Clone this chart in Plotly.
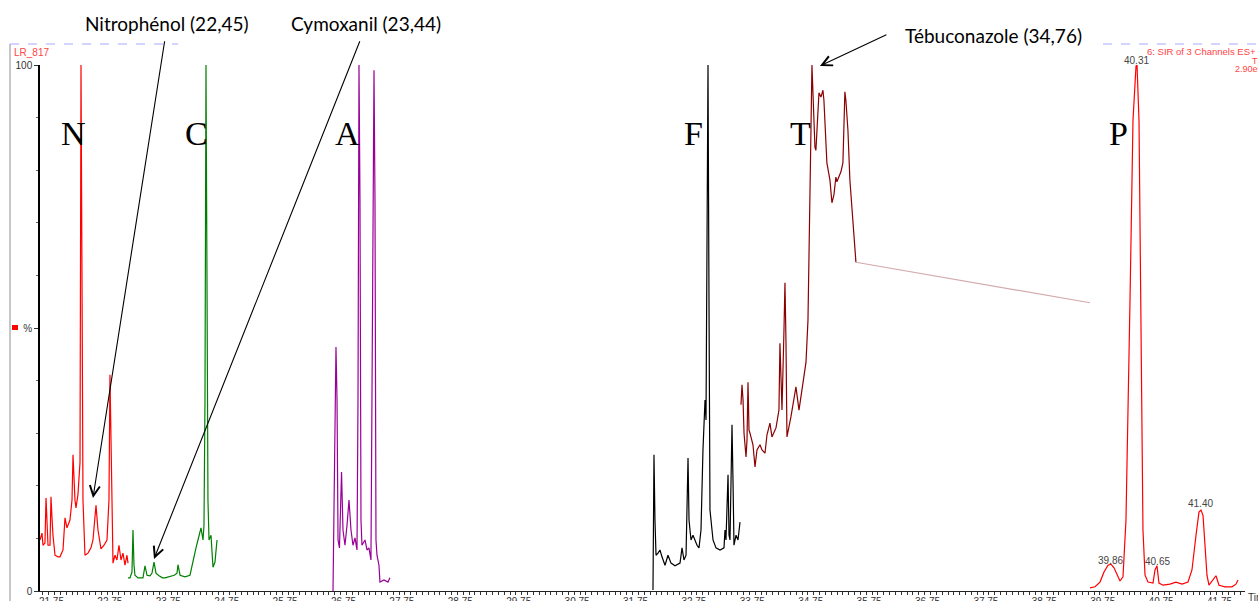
import plotly.graph_objects as go

# ---------------- data (time in minutes, intensity in %) ----------------
x_range = [21.502, 42.135]
tick_times = [21.75 + i for i in range(21)]
tick_labels = [f"{t:.2f}" for t in tick_times]
y_tick_vals = [0, 50, 100]
y_tick_labels = ["0", "%", "100"]

# N : nitrophenol channel (red)
n_time = [21.502, 21.536, 21.553, 21.587, 21.605, 21.622, 21.639, 21.673, 21.690, 21.707,
          21.724, 21.759, 21.810, 21.844, 21.896, 21.930, 21.964, 22.015, 22.050, 22.067,
          22.084, 22.101, 22.118, 22.152, 22.187, 22.204, 22.221, 22.238, 22.272, 22.324,
          22.375, 22.409, 22.461, 22.495, 22.546, 22.598, 22.649, 22.683, 22.700, 22.717,
          22.752, 22.786, 22.820, 22.854, 22.889, 22.923, 22.957, 22.991, 23.009]
n_int = [9.7, 11.0, 8.7, 9.1, 17.7, 12.0, 8.7, 8.7, 17.9, 14.0,
         10.6, 6.8, 6.5, 6.5, 7.8, 13.9, 12.0, 13.5, 17.3, 25.9,
         19.0, 17.3, 15.8, 18.3, 24.5, 100, 60, 17.3, 6.8, 7.2,
         8.2, 9.7, 16.3, 11.6, 8.0, 8.7, 9.7, 17.3, 41.1, 28.7,
         5.3, 6.8, 5.9, 8.7, 5.9, 7.2, 4.9, 6.8, 5.3]

# C : cymoxanil channel (green)
c_time = [23.009, 23.043, 23.077, 23.094, 23.111, 23.128, 23.180, 23.265, 23.300, 23.334,
          23.385, 23.420, 23.454, 23.488, 23.540, 23.600, 23.642, 23.728, 23.800, 23.848,
          23.865, 23.900, 23.985, 24.070, 24.122, 24.173, 24.207, 24.259, 24.293, 24.310,
          24.327, 24.344, 24.361, 24.378, 24.396, 24.430, 24.464, 24.498, 24.533]
c_int = [2.5, 2.5, 3.6, 11.6, 5.0, 3.0, 2.5, 2.5, 4.8, 3.0,
         2.9, 3.4, 5.5, 3.4, 2.9, 2.5, 2.5, 2.7, 3.0, 3.4,
         5.0, 3.0, 2.7, 3.0, 5.9, 8.2, 9.7, 12.0, 9.7, 12.5,
         36.3, 100, 60, 17.3, 9.7, 10.6, 4.5, 5.5, 9.7]

# A : purple channel
a_time = [26.519, 26.536, 26.570, 26.588, 26.605, 26.630, 26.665, 26.690, 26.724, 26.759,
          26.793, 26.827, 26.861, 26.896, 26.930, 26.947, 26.964, 26.981, 26.998, 27.015,
          27.067, 27.101, 27.135, 27.169, 27.204, 27.221, 27.238, 27.255, 27.272, 27.306,
          27.323, 27.392, 27.460, 27.494]
a_int = [0, 13.5, 46.4, 36.3, 9.7, 8.2, 22.6, 11.6, 8.7, 12.5,
         17.3, 11.6, 8.7, 10.1, 7.8, 36.3, 100, 74.3, 13.5, 8.7,
         9.7, 7.8, 8.2, 5.9, 64.8, 99, 74.3, 9.7, 6.8, 4.9,
         1.7, 2.1, 1.7, 2.5]

# F : black channel
f_time = [31.998, 32.015, 32.032, 32.050, 32.084, 32.118, 32.152, 32.204, 32.255, 32.307,
          32.375, 32.461, 32.495, 32.529, 32.564, 32.598, 32.615, 32.649, 32.683, 32.752,
          32.786, 32.820, 32.854, 32.889, 32.906, 32.923, 32.940, 32.957, 32.974, 33.026,
          33.077, 33.146, 33.214, 33.231, 33.248, 33.283, 33.300, 33.317, 33.351, 33.368,
          33.385, 33.420, 33.454, 33.488]
f_int = [0.2, 25.9, 13.5, 6.8, 7.2, 7.8, 6.5, 4.9, 6.8, 5.3,
         4.8, 5.3, 8.2, 5.9, 6.8, 25.3, 13.5, 9.7, 10.6, 8.7,
         8.2, 11.6, 26.8, 36.3, 32.5, 74.3, 100, 55.3, 15.4, 9.7,
         8.2, 7.8, 8.2, 11.6, 9.7, 22.1, 10.6, 9.7, 31.6, 21.1,
         8.7, 10.6, 9.7, 13.1]

# T : tebuconazole channel (dark red)
t_time = [33.505, 33.522, 33.540, 33.557, 33.591, 33.608, 33.625, 33.642, 33.659, 33.710,
          33.745, 33.779, 33.830, 33.865, 33.916, 33.950, 34.001, 34.035, 34.104, 34.155,
          34.172, 34.190, 34.207, 34.241, 34.258, 34.275, 34.292, 34.360, 34.446, 34.498,
          34.566, 34.618, 34.652, 34.686, 34.703, 34.720, 34.737, 34.771, 34.788, 34.806,
          34.840, 34.874, 34.908, 34.925, 34.960, 34.976, 35.028, 35.062, 35.096, 35.130,
          35.147, 35.216, 35.250, 35.284, 35.301, 35.336, 35.370, 35.421, 35.456, 35.473]
t_int = [35.4, 39.2, 36.3, 30.0, 25.5, 28.7, 39.7, 30.6, 30.0, 27.8,
         23.6, 26.8, 27.8, 26.8, 26.2, 29.7, 31.9, 29.3, 31.0, 34.4,
         47.1, 40.1, 34.4, 49.6, 58.6, 47.7, 29.3, 33.1, 38.8, 34.4,
         39.5, 43.5, 51.5, 71.1, 87.6, 100, 93.3, 84.4, 83.8, 87.6,
         94.7, 93.9, 95.2, 93.3, 85.7, 81.4, 78.1, 73.8, 75.3, 78.7,
         77.8, 79.7, 81.4, 94.9, 93.3, 87.6, 78.1, 70.5, 63.5, 62.5]

# connecting segment between T and P
gap_time = [35.473, 39.481]
gap_int = [62.5, 54.8]

# P : red channel
p_time = [39.481, 39.567, 39.652, 39.721, 39.789, 39.840, 39.892, 39.943, 39.995, 40.046,
          40.097, 40.166, 40.217, 40.269, 40.286, 40.320, 40.354, 40.388, 40.423, 40.474,
          40.560, 40.594, 40.628, 40.662, 40.730, 40.850, 40.953, 41.056, 41.159, 41.227,
          41.296, 41.347, 41.381, 41.416, 41.450, 41.484, 41.518, 41.587, 41.638, 41.690,
          41.792, 41.912, 41.980, 42.015]
p_int = [0.6, 0.8, 1.7, 3.6, 4.9, 5.1, 4.4, 3.0, 1.9, 2.7,
         13.5, 55.3, 89.5, 99.8, 100, 89.5, 45.8, 11.6, 3.0, 1.7,
         1.5, 4.0, 4.8, 1.5, 1.1, 1.3, 1.7, 1.3, 1.7, 4.0,
         10.6, 15.0, 15.4, 14.4, 8.7, 3.0, 1.1, 2.1, 2.9, 1.1,
         0.8, 0.8, 1.3, 2.1]

peak_labels = ["40.31", "39.86", "40.65", "41.40"]
segment_letters = ["N", "C", "A", "F", "T", "P"]

# ---------------- figure ----------------
W, H = 1258, 601
L, R, T, B = 40, 13, 65, 10
PW, PH = W - L - R, H - T - B


def px(xp):
    return (xp - L) / PW


def py(yp):
    return (H - B - yp) / PH


fig = go.Figure()
series = [
    (n_time, n_int, "#ff0000"),
    (c_time, c_int, "#008000"),
    (a_time, a_int, "#990099"),
    (f_time, f_int, "#000000"),
    (t_time, t_int, "#8b0000"),
    (gap_time, gap_int, "#d4aaaa"),
    (p_time, p_int, "#ff0000"),
]
for xs, ys, col in series:
    fig.add_trace(go.Scatter(x=xs, y=ys, mode="lines",
                             line=dict(color=col, width=1.2),
                             hoverinfo="skip", showlegend=False))

ann = []


def ptext(xp, yp, text, font, xanchor="center"):
    ann.append(dict(x=px(xp), y=py(yp), xref="paper", yref="paper", text=text,
                    xanchor=xanchor, yanchor="middle", showarrow=False, font=font))


letter_x = [73, 196, 347, 693, 800, 1118]
for s, xp in zip(segment_letters, letter_x):
    ptext(xp, 133, s, dict(family="Liberation Serif", size=34, color="black"))

lab_font = dict(family="Lato", size=19, color="black")
ptext(167, 24, "Nitrophénol (22,45)", lab_font)
ptext(366, 24, "Cymoxanil (23,44)", lab_font)
ptext(993, 35, "Tébuconazole (34,76)", lab_font)

arrow_kw = dict(xref="x", yref="y", axref="x", ayref="y", text="", showarrow=True,
                arrowhead=5, arrowsize=1.8, arrowwidth=1.1, arrowcolor="black", standoff=0)
ann.append(dict(x=22.409, y=17.7, ax=23.64, ay=104.8, **arrow_kw))
ann.append(dict(x=23.454, y=6.1, ax=26.988, ay=104.8, **arrow_kw))
ann.append(dict(x=34.857, y=99.8, ax=36.02, ay=105.9, **arrow_kw))

pk_font = dict(family="Liberation Sans", size=10, color="#444444")
for s, (xp, yp) in zip(peak_labels, [(1136.5, 61), (1110.5, 560), (1157, 561.5), (1200, 503)]):
    ptext(xp, yp, s, pk_font)

red_font = dict(family="Liberation Sans", size=9, color="#ff4444")
ptext(12, 52.5, "LR_817", dict(family="Liberation Sans", size=10, color="#ff4444"), "left")
ptext(1145, 51.5, "6: SIR of 3 Channels ES+", dict(family="Liberation Sans", size=9.5, color="#ff4444"), "left")
ptext(1250, 61, "TIC", red_font, "left")
ptext(1233, 69, "2.90e5", red_font, "left")
ptext(1246, 597, "Time", dict(family="Liberation Sans", size=10, color="#333333"), "left")

shapes = [
    dict(type="line", xref="paper", yref="paper", x0=px(10), x1=px(10), y0=py(44), y1=py(601),
         line=dict(color="#b4b4b4", width=1.5)),
    dict(type="line", xref="paper", yref="paper", x0=px(10), x1=px(178), y0=py(44), y1=py(44),
         line=dict(color="#a8a8ff", width=1, dash="dash")),
    dict(type="line", xref="paper", yref="paper", x0=px(1103), x1=px(1258), y0=py(44), y1=py(44),
         line=dict(color="#a8a8ff", width=1, dash="dash")),
    dict(type="rect", xref="paper", yref="paper", x0=px(12), x1=px(18), y0=py(330), y1=py(325),
         fillcolor="#ff0000", line=dict(width=0)),
]

tick_font = dict(family="Liberation Sans", size=10, color="#333333")
fig.update_layout(
    width=W, height=H, autosize=False,
    margin=dict(l=L, r=R, t=T, b=B),
    paper_bgcolor="white", plot_bgcolor="white",
    annotations=ann, shapes=shapes,
    xaxis=dict(range=x_range, tickmode="array", tickvals=tick_times, ticktext=tick_labels,
               showgrid=False, zeroline=False, showline=True, linecolor="#222222", linewidth=1,
               ticks="outside", ticklen=3, tickcolor="#333333", tickfont=tick_font,
               ticklabelshift=-3, ticklabelstandoff=-2,
               automargin=False, fixedrange=True,
               minor=dict(dtick=0.1, tick0=21.75, ticks="outside", ticklen=3,
                          tickcolor="#333333", showgrid=False)),
    yaxis=dict(range=[0, 100], tickmode="array", tickvals=y_tick_vals, ticktext=y_tick_labels,
               showgrid=False, zeroline=False, showline=True, linecolor="black", linewidth=1.5,
               ticks="outside", ticklen=4, tickcolor="#333333", tickfont=tick_font,
               automargin=False, fixedrange=True,
               minor=dict(dtick=10, tick0=0, ticks="outside", ticklen=2,
                          tickcolor="#666666", showgrid=False)),
)

fig.write_html("out.html", config={"displayModeBar": False},
               post_script="document.body.style.margin='0';document.body.style.overflow='hidden';")
